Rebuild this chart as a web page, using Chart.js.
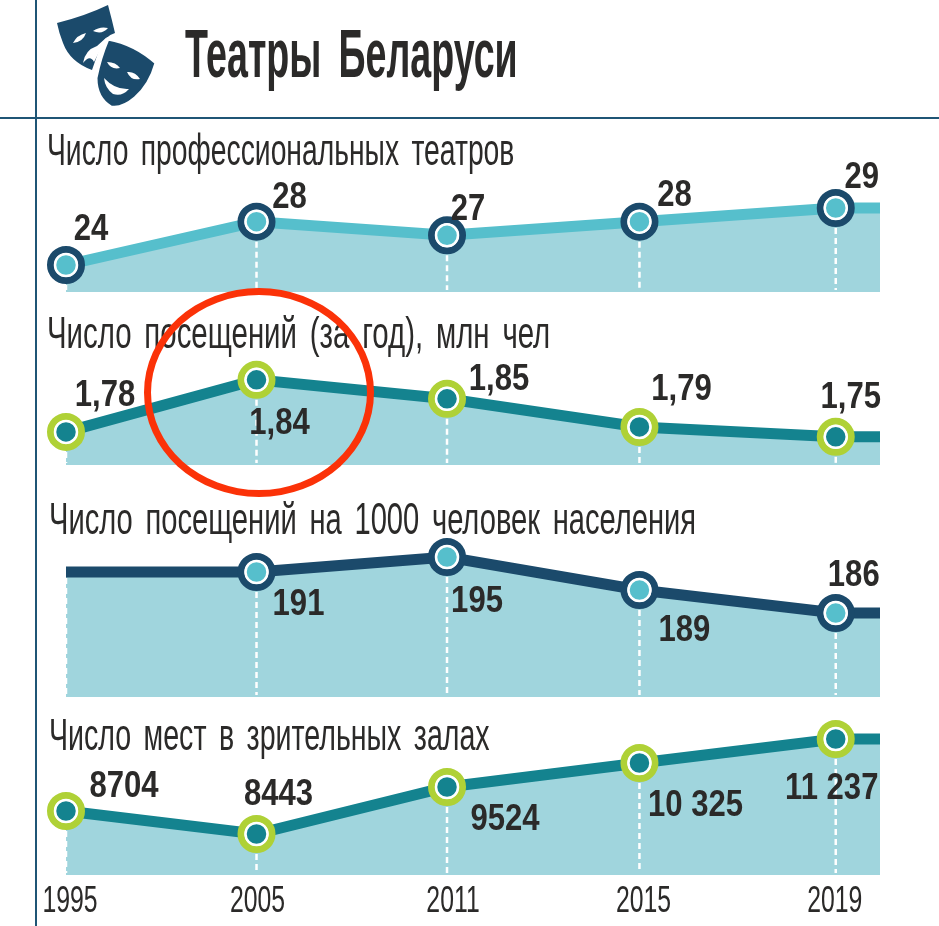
<!DOCTYPE html>
<html lang="ru">
<head>
<meta charset="utf-8">
<title>Театры Беларуси</title>
<script src="https://cdn.jsdelivr.net/npm/chart.js@4"></script>
<style>
    html, body { margin: 0; padding: 0; background: #fff; }
    #page { position: relative; width: 939px; height: 926px; overflow: hidden; font-family: "Liberation Sans", sans-serif; color: #2b2a29; }
    #page canvas { position: absolute; left: 0; }
    .rule { position: absolute; background: #1f5575; }
    h1, h2 { position: absolute; margin: 0; white-space: nowrap; transform-origin: left center; line-height: 1; }
    h1 { left: 185px; top: 19px; font-size: 68px; font-weight: bold; word-spacing: 12px; transform: scaleX(0.553); }
    h2 { left: 47px; font-size: 44px; font-weight: normal; word-spacing: 7px; }
    #ring { position: absolute; left: 144px; top: 288px; width: 216px; height: 195px; border: 7px solid #fb3208; border-radius: 50%; }
    #masks { position: absolute; left: 50px; top: 0; }
</style>
</head>
<body>
<div id="page">
    <canvas id="c0" width="939" height="142" style="top:150px"></canvas>
    <canvas id="c1" width="939" height="135" style="top:330px"></canvas>
    <canvas id="c2" width="939" height="167" style="top:530px"></canvas>
    <canvas id="c3" width="939" height="216" style="top:710px"></canvas>

    <div class="rule" style="left:35px; top:0; width:2px; height:926px"></div>
    <div class="rule" style="left:0; top:117px; width:939px; height:2px"></div>

    <svg id="masks" width="120" height="110" viewBox="50 0 120 110">
        <path fill="#1b4a6b" d="M57 23 Q85 16 108 5 Q112 20 115 33 Q104 36 99 50 L92 70 Q70 62 63 43 Q59 33 57 23Z"/>
        <path fill="#fff" d="M73 43 Q77 35 86 33 Q83 42 73 43Z M93 31 Q100 26 108 28 Q102 35 93 31Z M83 63 Q85 50 97 46 L107 37 Q100 50 94 62 Q90 54 83 63Z"/>
        <path fill="#1b4a6b" stroke="#fff" stroke-width="3" d="M108 39 Q135 44 156 63 Q150 85 135 98 Q122 109 111 107 Q96 98 96 78 Q100 58 108 39Z"/>
        <path fill="#fff" d="M107 62 Q116 62 120 68 Q111 70 107 62Z M127 72 Q135 71 140 79 Q131 81 127 72Z M104 78 Q115 90 129 89 Q122 97 113 94 Q105 88 104 78Z"/>
    </svg>

    <h1 id="title">Театры Беларуси</h1>
    <h2 style="top:128px; transform:scaleX(0.643)">Число профессиональных театров</h2>
    <h2 style="top:311px; transform:scaleX(0.668)">Число посещений (за год), млн чел</h2>
    <h2 style="top:497px; left:49px; transform:scaleX(0.662)">Число посещений на 1000 человек населения</h2>
    <h2 style="top:713px; left:49px; transform:scaleX(0.649)">Число мест в зрительных залах</h2>

    <div id="ring"></div>
</div>

<script>
const years = ['1995', '2005', '2011', '2015', '2019'];
// horizontal spacing of the years as drawn in the picture (not to scale with time)
const slots = [0, 0.99, 1.98, 2.98, 4];
const tailSlot = 4.23;

// printed numbers
const theatreLabels = ['24', '28', '27', '28', '29'];
const visitLabels = ['1,78', '1,84', '1,85', '1,79', '1,75'];
const per1000Labels = ['', '191', '195', '189', '186'];
const seatLabels = ['8704', '8443', '9524', '10 325', '11 237'];

// levels as the line is drawn: the original is not strictly to scale (1,84 sits above 1,85)
const theatreLevels = [24, 27.8, 26.6, 27.8, 29];
const visitLevels = [1.763, 1.90, 1.85, 1.776, 1.75];
const per1000Levels = [192.6, 192.6, 195, 189.7, 186];
const seatLevels = [9119, 8443, 9825, 10531, 11237];

const NAVY = '#1b4a6b', TEAL = '#14838f', SKY = '#56bfcc', LIME = '#afd136', AREA = '#a0d5dd', INK = '#2b2a29';
const FONT = '"Liberation Sans", sans-serif';

// no condensed face is installed, so text on the canvas is squeezed horizontally
function squeezedText(ctx, text, x, y, sx) {
    ctx.save();
    ctx.translate(x, y);
    ctx.scale(sx, 1);
    ctx.fillText(text, 0, 0);
    ctx.restore();
}

function makePanel(id, cfg) {
    const pts = cfg.levels.map((v, i) => ({ x: slots[i], y: v }));
    const hasDot = i => cfg.labels[i] !== undefined && cfg.labels[i] !== '';

    const marks = {
        id: 'marks',
        afterDatasetsDraw(chart) {
            const ctx = chart.ctx, x = chart.scales.x, y = chart.scales.y;
            ctx.save();
            ctx.strokeStyle = '#fff';
            ctx.lineWidth = 2.5;
            ctx.setLineDash([6, 4]);
            pts.forEach((p, i) => {
                ctx.beginPath();
                ctx.moveTo(x.getPixelForValue(p.x), y.getPixelForValue(p.y) + (hasDot(i) ? 20 : 6));
                ctx.lineTo(x.getPixelForValue(p.x), chart.chartArea.bottom - 2);
                ctx.stroke();
            });
            ctx.restore();
        },
        afterDraw(chart) {
            const ctx = chart.ctx, x = chart.scales.x, y = chart.scales.y;
            ctx.save();
            ctx.font = 'bold 37px ' + FONT;
            ctx.fillStyle = INK;
            ctx.textAlign = 'center';
            ctx.textBaseline = 'middle';
            cfg.labels.forEach((t, i) => {
                if (t) squeezedText(ctx, t, x.getPixelForValue(pts[i].x) + cfg.dx[i], y.getPixelForValue(pts[i].y) + cfg.dy[i] + 2, 0.84);
            });
            if (cfg.axis) {
                ctx.font = '37px ' + FONT;
                years.forEach((t, i) => {
                    squeezedText(ctx, t, x.getPixelForValue(slots[i]) + cfg.yearDx[i], chart.chartArea.bottom + 27, 0.67);
                });
            }
            ctx.restore();
        }
    };

    return new Chart(document.getElementById(id), {
        type: 'line',
        plugins: [marks],
        data: {
            datasets: [
                {
                    // inner dot with its white ring
                    data: pts,
                    showLine: false,
                    clip: false,
                    pointRadius: ctx => hasDot(ctx.dataIndex) ? 11 : 0,
                    pointBorderWidth: 2.5,
                    pointBorderColor: '#fff',
                    pointBackgroundColor: cfg.dot
                },
                {
                    data: pts.concat({ x: tailSlot, y: cfg.levels[4] }),
                    borderColor: cfg.line,
                    borderWidth: 11,
                    tension: 0,
                    clip: false,
                    fill: 'start',
                    backgroundColor: AREA,
                    pointRadius: ctx => hasDot(ctx.dataIndex) ? 15.5 : 0,
                    pointBorderWidth: 7,
                    pointBorderColor: cfg.ring,
                    pointBackgroundColor: '#fff'
                }
            ]
        },
        options: {
            responsive: false,
            animation: false,
            devicePixelRatio: 1,
            layout: { autoPadding: false, padding: { left: 66, right: 59, top: 0, bottom: 0 } },
            plugins: { legend: { display: false }, tooltip: { enabled: false } },
            scales: {
                x: {
                    type: 'linear',
                    min: 0,
                    max: tailSlot,
                    display: !!cfg.axis,
                    grid: { display: false },
                    border: { display: false },
                    afterFit: s => { if (cfg.axis) s.height = 51; },
                    ticks: { display: false }
                },
                y: { display: false, min: cfg.min, max: cfg.max }
            }
        }
    });
}

makePanel('c0', {
    labels: theatreLabels, levels: theatreLevels, min: 21.63, max: 34.09,
    line: SKY, dot: SKY, ring: NAVY,
    dx: [25, 33, 21, 35, 26], dy: [-37, -26, -28, -28, -32]
});
makePanel('c1', {
    labels: visitLabels, levels: visitLevels, min: 1.676, max: 2.031,
    line: TEAL, dot: TEAL, ring: LIME,
    dx: [39, 23, 52, 42, 15], dy: [-38, 42, -21, -39, -41]
});
makePanel('c2', {
    labels: per1000Labels, levels: per1000Levels, min: 172.5, max: 199.35,
    line: NAVY, dot: SKY, ring: NAVY,
    dx: [0, 42, 30, 45, 18], dy: [0, 31, 43, 39, -39]
});
makePanel('c3', {
    labels: seatLabels, levels: seatLevels, min: 7237, max: 12090, axis: true,
    line: TEAL, dot: TEAL, ring: LIME,
    dx: [58, 22, 58, 56, -4], dy: [-26, -41, 31, 41, 48],
    yearDx: [4, 1, 6, 4, -1]
});
</script>
</body>
</html>
